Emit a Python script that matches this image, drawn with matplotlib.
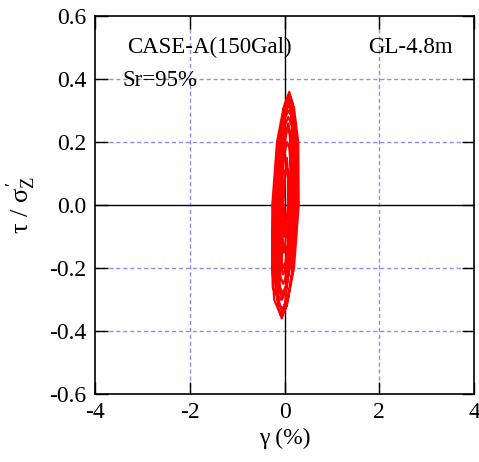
import matplotlib.pyplot as plt

plt.rcParams["font.family"] = ["Liberation Serif", "DejaVu Serif"]
plt.rcParams["axes.unicode_minus"] = False
plt.rcParams["mathtext.fontset"] = "custom"
plt.rcParams["mathtext.rm"] = "Liberation Serif"
plt.rcParams["mathtext.it"] = "Liberation Serif"

# stress-strain loop, vertices (gamma in %, tau/sigma_z')
gamma = [
    0.00, 0.00, 0.05, 0.07, 0.08, 0.06, 0.05, 0.02, 0.00, -0.03, -0.03,
    -0.06, -0.03, 0.02, 0.07, 0.12, 0.13, 0.11, 0.075, 0.03, -0.03, -0.08, -0.10,
    -0.10, -0.05, 0.02, 0.10, 0.17, 0.18, 0.145, 0.09, 0.025, -0.06, -0.13, -0.15,
    -0.14, -0.06, 0.04, 0.15, 0.24, 0.24, 0.18, 0.10, 0.00, -0.11, -0.20, -0.22,
    -0.16, -0.05, 0.07, 0.20, 0.30, 0.29, 0.20, 0.095, -0.02, -0.16, -0.26, -0.25,
    -0.22, -0.08, 0.05, 0.17, 0.27, 0.26, 0.18, 0.09, -0.02, -0.14, -0.24, -0.26,
    -0.25, -0.20, -0.08, 0.03, 0.12, 0.20, 0.21, 0.16, 0.11, 0.02, -0.08, -0.16, -0.16,
    -0.12, -0.04, 0.05, 0.14, 0.22, 0.22, 0.16, 0.08, 0.00, -0.10, -0.18, -0.18,
    -0.11, -0.05, 0.01, 0.10, 0.17, 0.18, 0.14, 0.09, 0.02, -0.06, -0.13, -0.13,
    -0.08, -0.03, 0.02, 0.08, 0.14, 0.15, 0.12, 0.08, 0.02, -0.04, -0.10, -0.10,
    -0.06, -0.02, 0.02, 0.07, 0.12, 0.13, 0.10, 0.06, 0.02, -0.03, -0.08, -0.07,
    -0.01, 0.04, 0.08, 0.08, 0.05, 0.01, -0.04, -0.03, 0.00,
]
tau = [
    0.00, -0.10, -0.06, 0.00, 0.07, 0.11, 0.12, 0.11, 0.07, 0.00, -0.06,
    -0.20, -0.22, -0.20, -0.13, 0.00, 0.15, 0.22, 0.25, 0.22, 0.15, 0.00, -0.18,
    -0.27, -0.30, -0.27, -0.18, 0.00, 0.20, 0.30, 0.33, 0.30, 0.20, 0.00, -0.22,
    -0.32, -0.36, -0.32, -0.22, 0.00, 0.22, 0.32, 0.36, 0.32, 0.22, 0.00, -0.20,
    -0.30, -0.33, -0.30, -0.20, 0.00, 0.20, 0.31, 0.34, 0.31, 0.20, 0.00, -0.21,
    -0.30, -0.35, -0.32, -0.21, 0.00, 0.18, 0.27, 0.30, 0.27, 0.18, 0.00, -0.18,
    -0.26, -0.28, -0.30, -0.27, -0.18, 0.00, 0.21, 0.32, 0.35, 0.32, 0.21, 0.00, -0.17,
    -0.25, -0.28, -0.25, -0.17, 0.00, 0.17, 0.25, 0.28, 0.25, 0.17, 0.00, -0.20,
    -0.31, -0.34, -0.31, -0.20, 0.00, 0.19, 0.29, 0.32, 0.29, 0.19, 0.00, -0.15,
    -0.23, -0.25, -0.23, -0.15, 0.00, 0.16, 0.23, 0.26, 0.23, 0.16, 0.00, -0.12,
    -0.18, -0.20, -0.18, -0.12, 0.00, 0.12, 0.18, 0.20, 0.18, 0.12, 0.00, -0.09,
    -0.15, -0.09, 0.00, 0.09, 0.15, 0.09, 0.00, -0.08, -0.05,
]

XTICKS = [-4, -2, 0, 2, 4]
YTICKS = [-0.6, -0.4, -0.2, 0.0, 0.2, 0.4, 0.6]

fig = plt.figure(figsize=(4.79, 4.62), dpi=100)
ax = fig.add_axes([0.198, 0.147, 0.792, 0.818])

grid_kw = dict(color="#8c8cff", ls=(0, (3, 2)), lw=1.0, zorder=1)
for g in [-2, 2]:
    ax.axvline(g, **grid_kw)
for t in [-0.4, -0.2, 0.2, 0.4]:
    ax.axhline(t, **grid_kw)
ax.axvline(0, color="black", lw=1.0, zorder=1)
ax.axhline(0, color="black", lw=1.0, zorder=1)

ax.plot(gamma, tau, color="red", lw=1.5, zorder=3)

ax.set_xlim(-4, 4)
ax.set_ylim(-0.6, 0.6)
ax.set_xticks(XTICKS)
ax.set_yticks(YTICKS)
ax.set_yticklabels([f"{v:.1f}" for v in YTICKS])
ax.tick_params(direction="in", length=9, width=1.0, top=True, right=True,
               labelsize=17, pad=6)
for s in ax.spines.values():
    s.set_linewidth(1.2)

ax.set_xlabel("γ (%)", fontsize=17, labelpad=3)
ax.set_ylabel(r"$\tau\ /\ \sigma_Z^{\prime}$", fontsize=19, labelpad=8)

ax.text(-3.32, 0.50, "CASE-A(150Gal)", fontsize=16.5, va="center", ha="left")
ax.text(-3.41, 0.395, "Sr=95%", fontsize=16.5, va="center", ha="left")
ax.text(1.76, 0.50, "GL-4.8m", fontsize=16.5, va="center", ha="left")

fig.savefig("out.png", dpi=100)
